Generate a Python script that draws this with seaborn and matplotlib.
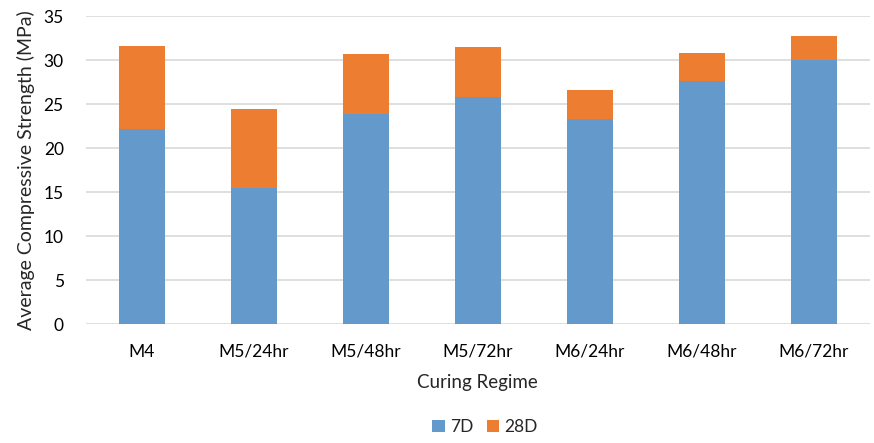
import matplotlib
matplotlib.use("Agg")
import matplotlib.pyplot as plt
import seaborn as sns
import pandas as pd

categories = ["M4", "M5/24hr", "M5/48hr", "M5/72hr", "M6/24hr", "M6/48hr", "M6/72hr"]
d7 = [22.2, 15.5, 23.9, 25.8, 23.3, 27.7, 30.0]
d28 = [31.6, 24.5, 30.7, 31.5, 26.6, 30.8, 32.8]
series = ["7D", "28D"]
colors = {"7D": "#6399CB", "28D": "#ED7D31"}

sns.set_theme(style="white")
plt.rcParams['font.family'] = ['Lato', 'DejaVu Sans']

fig = plt.figure(figsize=(8.74, 4.43), dpi=100)
ax = fig.add_axes([0.0984, 0.268, 0.8966, 0.695])

df7 = pd.DataFrame({"cat": categories, "val": d7})
df28 = pd.DataFrame({"cat": categories, "val": d28})

sns.barplot(data=df28, x="cat", y="val", color=colors["28D"], width=0.41,
            ax=ax, saturation=1, zorder=2, label="28D", linewidth=0, legend=False)
sns.barplot(data=df7, x="cat", y="val", color=colors["7D"], width=0.41,
            ax=ax, saturation=1, zorder=3, label="7D", linewidth=0, legend=False)
if ax.get_legend() is not None:
    ax.get_legend().remove()

ax.set_ylim(0, 35)
ax.set_yticks(range(0, 36, 5))
ax.set_xlim(-0.5, len(categories) - 0.5)
ax.yaxis.grid(True, color="#d9d9d9", linewidth=1.2, zorder=0)
ax.set_axisbelow(True)
for s in ["top", "right", "left", "bottom"]:
    ax.spines[s].set_visible(False)
ax.tick_params(axis="both", length=0, labelsize=12.5, colors="#000000")
ax.tick_params(axis="x", pad=14)
ax.tick_params(axis="y", pad=16)
ax.set_xlabel("Curing Regime", fontsize=13.5, labelpad=10)
ax.set_ylabel("Average Compressive Strength (MPa)", fontsize=14, labelpad=6)

handles, labels = ax.get_legend_handles_labels()
order = [labels.index(s) for s in series]
fig.legend([handles[i] for i in order], [labels[i] for i in order],
           loc="center", bbox_to_anchor=(0.555, 0.035), ncol=2, frameon=False,
           fontsize=12.5, handlelength=0.7, handleheight=0.7, handletextpad=0.3,
           columnspacing=0.8)

fig.savefig("out.png", dpi=100)
